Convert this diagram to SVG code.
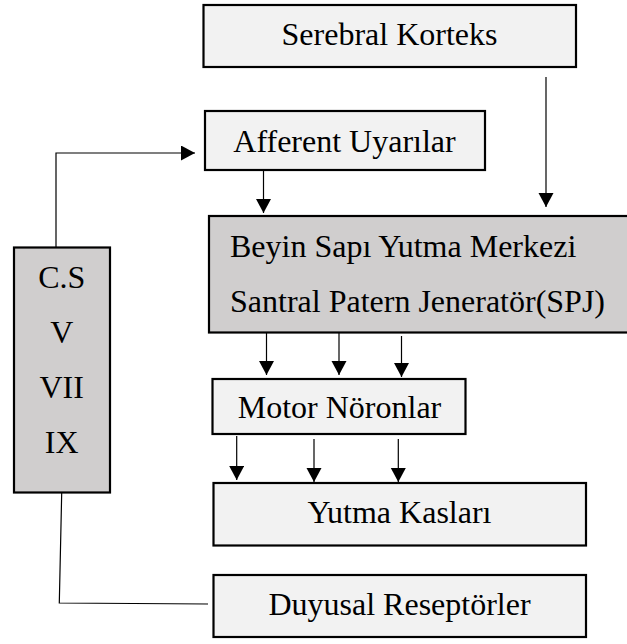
<svg xmlns="http://www.w3.org/2000/svg" width="627" height="644" viewBox="0 0 627 644">
<style>
.box{stroke:#000;stroke-width:2.2}
.light{fill:#f2f2f2}
.dark{fill:#d0cece}
.t{font-family:"Liberation Serif","Times New Roman",serif;font-size:32px;fill:#000}
.c{stroke:#000;stroke-width:1.2;fill:none}
</style>
<defs>
<marker id="ah" markerUnits="userSpaceOnUse" markerWidth="15" markerHeight="16" refX="14" refY="7.5" orient="auto">
<path d="M0,0 L14,7.5 L0,15 z" fill="#000"/>
</marker>
</defs>
<rect width="627" height="644" fill="#fff"/>
<g id="connectors">
<line class="c" x1="546" y1="77" x2="546" y2="207" marker-end="url(#ah)"/>
<line class="c" x1="263.5" y1="171" x2="263.5" y2="213" marker-end="url(#ah)"/>
<line class="c" x1="266.5" y1="333" x2="266.5" y2="375" marker-end="url(#ah)"/>
<line class="c" x1="339" y1="333" x2="339" y2="375" marker-end="url(#ah)"/>
<line class="c" x1="401.5" y1="336" x2="401.5" y2="377" marker-end="url(#ah)"/>
<line class="c" x1="236.7" y1="436" x2="236.7" y2="480" marker-end="url(#ah)"/>
<line class="c" x1="314" y1="439" x2="314" y2="482" marker-end="url(#ah)"/>
<line class="c" x1="398.3" y1="439" x2="398.3" y2="482" marker-end="url(#ah)"/>
<polyline class="c" points="56,247 56,153 195,153" marker-end="url(#ah)"/>
<polyline class="c" points="61.7,493 59.3,603 208,604"/>
</g>
<g id="serebral">
<rect class="box light" x="203.5" y="5" width="372.5" height="62"/>
<text class="t" x="389.5" y="45" text-anchor="middle">Serebral Korteks</text>
</g>
<g id="afferent">
<rect class="box light" x="205" y="111" width="280" height="59"/>
<text class="t" x="344.5" y="152" text-anchor="middle">Afferent Uyarılar</text>
</g>
<g id="beyin">
<rect class="box dark" x="209" y="216" width="422" height="116.5"/>
<text class="t" x="230" y="257">Beyin Sapı Yutma Merkezi</text>
<text class="t" x="230" y="312">Santral Patern Jeneratör(SPJ)</text>
</g>
<g id="cs">
<rect class="box dark" x="14" y="247.5" width="96" height="245"/>
<text class="t" x="61.7" y="288" text-anchor="middle">C.S</text>
<text class="t" x="61.7" y="343" text-anchor="middle">V</text>
<text class="t" x="61.7" y="398" text-anchor="middle">VII</text>
<text class="t" x="61.7" y="453" text-anchor="middle">IX</text>
</g>
<g id="motor">
<rect class="box light" x="212.5" y="379" width="253" height="55"/>
<text class="t" x="339.5" y="418" text-anchor="middle">Motor Nöronlar</text>
</g>
<g id="yutma">
<rect class="box light" x="213.5" y="483" width="372.5" height="62.5"/>
<text class="t" x="399.5" y="523" text-anchor="middle">Yutma Kasları</text>
</g>
<g id="duyusal">
<rect class="box light" x="213.5" y="575" width="372.5" height="62"/>
<text class="t" x="399.5" y="615" text-anchor="middle">Duyusal Reseptörler</text>
</g>
</svg>
